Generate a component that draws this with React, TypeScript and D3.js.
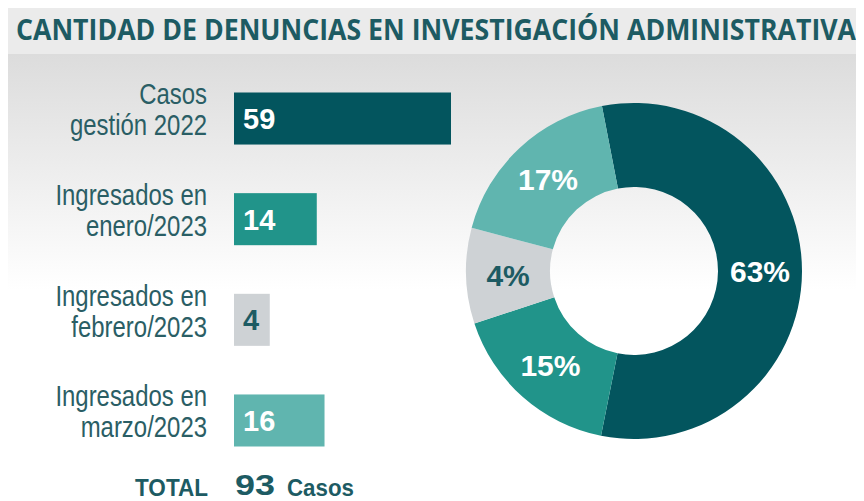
import React from "react";
import * as d3 from "d3";

// ---- Data ----
const title = "CANTIDAD DE DENUNCIAS EN INVESTIGACIÓN ADMINISTRATIVA";
const categories = ["gestion2022", "enero2023", "febrero2023", "marzo2023"];
const categoryLines: string[][] = [
  ["Casos", "gestión 2022"],
  ["Ingresados en", "enero/2023"],
  ["Ingresados en", "febrero/2023"],
  ["Ingresados en", "marzo/2023"],
];
const values = [59, 14, 4, 16];
const percentLabels = ["63%", "15%", "4%", "17%"];
// slice shares as drawn in the reference donut (percent of the circle)
const sliceShares = [56.2, 16.8, 9.2, 17.8];
const colors = ["#03555E", "#21948A", "#CED2D5", "#60B5AF"];
const valueTextColors = ["#FFFFFF", "#FFFFFF", "#1D5B63", "#FFFFFF"];
const totalWord = "TOTAL";
const casesWord = "Casos";

const W = 856;
const H = 493;
const TEXT = "#1D5B63";
const LABEL = "#2A5E65";

export default function App() {
  const y = d3
    .scaleBand<string>()
    .domain(categories)
    .range([84.5, 438.5])
    .paddingInner(0.483)
    .paddingOuter(0);
  const bw = y.bandwidth();
  const x0 = 226;
  const xw = d3.scalePow().exponent(0.67).domain([0, 59]).range([0, 217]);

  const cx = 626;
  const cy = 263;
  const rOuter = 168;
  const rInner = 84;
  const start = (-11 * Math.PI) / 180;
  const pie = d3
    .pie<number>()
    .sort(null)
    .value((d) => d)
    .startAngle(start)
    .endAngle(start + 2 * Math.PI);
  const arcs = pie(sliceShares);
  const arc = d3.arc<d3.PieArcDatum<number>>().innerRadius(rInner).outerRadius(rOuter);

  const total = d3.sum(values);
  const sx = 0.825;
  const titleSy = 1.12;

  return (
    <svg width={W} height={H} style={{ display: "block" }} fontFamily="'Liberation Sans', Arial, sans-serif">
      <defs>
        <linearGradient id="bg" x1="0" y1="0" x2="0" y2="1">
          <stop offset="0" stopColor="#DCDCDC" />
          <stop offset="0.6" stopColor="#F1F1F1" />
          <stop offset="1" stopColor="#FFFFFF" />
        </linearGradient>
      </defs>
      <rect x={0} y={46} width={W} height={236} fill="url(#bg)" />
      <rect x={0} y={0} width={W} height={46} fill="#EBEBEB" />
      <g transform={`scale(1,${titleSy})`}>
        <text
          x={8}
          y={32 / titleSy}
          fontFamily="'Open Sans', sans-serif"
          fontWeight={700}
          fontSize={25}
          fill={TEXT}
          textLength={840}
          lengthAdjust="spacingAndGlyphs"
        >
          {title}
        </text>
      </g>

      {categories.map((c, i) => {
        const top = y(c)!;
        return (
          <g key={c}>
            <rect x={x0} y={top} width={xw(values[i])} height={bw} fill={colors[i]} />
            <text
              x={x0 + 9}
              y={top + bw / 2 + 10.5}
              fontWeight={700}
              fontSize={29}
              fill={valueTextColors[i]}
            >
              {values[i]}
            </text>
            <g transform={`scale(${sx},1)`}>
              {categoryLines[i].map((line, j) => (
                <text
                  key={j}
                  x={199 / sx}
                  y={top + 12 + j * 31}
                  textAnchor="end"
                  fontSize={29}
                  fill={LABEL}
                >
                  {line}
                </text>
              ))}
            </g>
          </g>
        );
      })}

      <g transform={`translate(${cx},${cy})`}>
        {arcs.map((a, i) => (
          <path key={i} d={arc(a)!} fill={colors[i]} />
        ))}
        {arcs.map((a, i) => {
          const [px, py] = arc.centroid(a);
          return (
            <text
              key={"t" + i}
              x={px}
              y={py + 11}
              textAnchor="middle"
              fontWeight={700}
              fontSize={30}
              fill={valueTextColors[i]}
            >
              {percentLabels[i]}
            </text>
          );
        })}
      </g>

      <g fontWeight={700} fill={TEXT}>
        <text x={127} y={487.5} fontSize={24} textLength={73} lengthAdjust="spacingAndGlyphs">
          {totalWord}
        </text>
        <text x={227} y={487} fontSize={30} textLength={40} lengthAdjust="spacingAndGlyphs">
          {total}
        </text>
        <text x={279} y={487.5} fontSize={24} textLength={67} lengthAdjust="spacingAndGlyphs">
          {casesWord}
        </text>
      </g>
    </svg>
  );
}
